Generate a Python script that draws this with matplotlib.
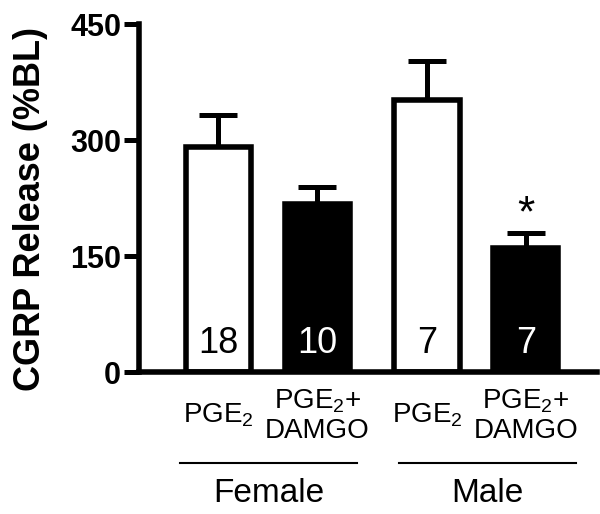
import matplotlib
matplotlib.use("Agg")
import matplotlib.pyplot as plt

plt.rcParams['font.family'] = ['Liberation Sans', 'DejaVu Sans']
plt.rcParams['mathtext.fontset'] = 'custom'
plt.rcParams['mathtext.rm'] = 'Liberation Sans'
plt.rcParams['mathtext.it'] = 'Liberation Sans:italic'
plt.rcParams['mathtext.bf'] = 'Liberation Sans:bold'

groups = ["Female", "Male"]
labels = ["PGE$_2$", "PGE$_2$+\nDAMGO", "PGE$_2$", "PGE$_2$+\nDAMGO"]
means = [291, 218, 352, 160]
sem = [41, 22, 51, 20]
n_values = ["18", "10", "7", "7"]
fills = ["white", "black", "white", "black"]
positions = [0, 1, 2.11, 3.11]


def make_chart():
    fig = plt.figure(figsize=(6, 5.14), dpi=100)
    ax = fig.add_axes([0.232, 0.276, 0.763, 0.677])

    for x, m, e, c in zip(positions, means, sem, fills):
        ax.bar(x, m, width=0.66, color=c, edgecolor="black", linewidth=4, zorder=2)
        ax.errorbar(x, m, yerr=[[0], [e]], fmt="none", ecolor="black",
                    elinewidth=3.6, capsize=14, capthick=3.6, zorder=1)

    for x, n, c in zip(positions, n_values, fills):
        txt = "white" if c == "black" else "black"
        ax.text(x, 37, n, ha="center", va="center", fontsize=26, color=txt, zorder=3)

    # significance star over male PGE2+DAMGO
    ax.text(positions[3], means[3] + sem[3] + 24, "*", ha="center", va="center",
            fontsize=32)

    ax.set_ylim(0, 450)
    ax.set_xlim(-0.8, 3.83)
    ax.set_yticks([0, 150, 300, 450])
    ax.set_yticklabels(["0", "150", "300", "450"], fontsize=22, fontweight="bold")
    ax.set_xticks([])
    ax.tick_params(axis="y", direction="out", length=11, width=3.6, pad=2)
    ax.set_ylabel("CGRP Release (%BL)", fontsize=26, fontweight="bold")
    ax.yaxis.set_label_coords(-0.2, 0.47)

    for s in ["top", "right"]:
        ax.spines[s].set_visible(False)
    for s in ["left", "bottom"]:
        ax.spines[s].set_linewidth(4)

    trans = ax.get_xaxis_transform()
    for x, lab in zip(positions, labels):
        ax.text(x, -0.125, lab, transform=trans, ha="center", va="center",
                fontsize=20, linespacing=1.15)

    offsets = [0.01, 0.11]
    for i, g in enumerate(groups):
        c = (positions[2 * i] + positions[2 * i + 1]) / 2 + offsets[i]
        ax.plot([c - 0.895, c + 0.895], [-0.262, -0.262], transform=trans,
                color="black", linewidth=1.5, clip_on=False)
        ax.text(c, -0.35, g, transform=trans, ha="center", va="center", fontsize=24)

    fig.savefig("out.png", dpi=100)


if __name__ == "__main__":
    make_chart()
